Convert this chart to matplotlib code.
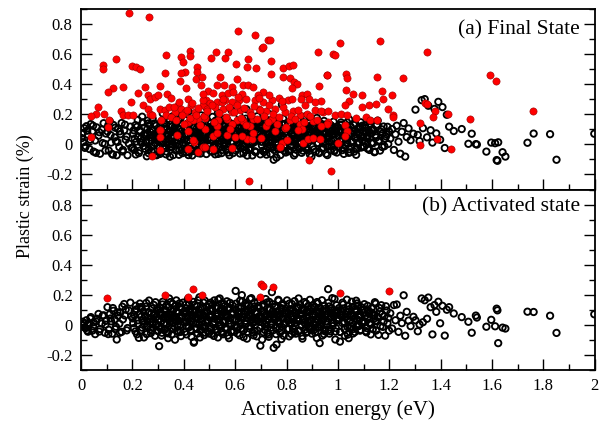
import matplotlib
matplotlib.use("Agg")
import matplotlib.pyplot as plt
from matplotlib.ticker import MultipleLocator

plt.rcParams['font.family'] = ['Liberation Serif', 'DejaVu Serif']

# activation energy (eV) of every event, shared by both panels
energy = [
    0.003, 0.008, 0.012, 0.018, 0.021, 0.027, 0.033, 0.038, 0.044, 0.049,
    0.055, 0.061, 0.068, 0.074, 0.081, 0.088, 0.093, 0.097,
    0.103, 0.108, 0.112, 0.117, 0.121, 0.126, 0.131, 0.136, 0.139, 0.144,
    0.149, 0.153, 0.158, 0.163, 0.168, 0.174, 0.181, 0.192,
    0.203, 0.207, 0.212, 0.216, 0.221, 0.225, 0.229, 0.234, 0.238, 0.243,
    0.247, 0.252, 0.256, 0.261, 0.265, 0.270, 0.274, 0.279, 0.283, 0.288,
    0.292, 0.297,
    0.301, 0.304, 0.308, 0.311, 0.315, 0.318, 0.322, 0.325, 0.329, 0.332,
    0.336, 0.339, 0.343, 0.346, 0.350, 0.353, 0.357, 0.360, 0.364, 0.367,
    0.371, 0.374, 0.378, 0.381, 0.385, 0.389, 0.393, 0.397,
    0.402, 0.405, 0.409, 0.412, 0.416, 0.419, 0.423, 0.426, 0.430, 0.433,
    0.437, 0.440, 0.444, 0.447, 0.451, 0.454, 0.458, 0.461, 0.465, 0.468,
    0.472, 0.475, 0.479, 0.482, 0.486, 0.490, 0.494, 0.498,
    0.501, 0.505, 0.508, 0.512, 0.515, 0.519, 0.522, 0.526, 0.529, 0.533,
    0.536, 0.540, 0.543, 0.547, 0.550, 0.554, 0.557, 0.561, 0.564, 0.568,
    0.571, 0.575, 0.578, 0.582, 0.585, 0.589, 0.593, 0.597,
    0.602, 0.605, 0.609, 0.612, 0.616, 0.619, 0.623, 0.626, 0.630, 0.633,
    0.637, 0.640, 0.644, 0.647, 0.651, 0.654, 0.658, 0.661, 0.665, 0.668,
    0.672, 0.675, 0.679, 0.682, 0.686, 0.690, 0.694, 0.698,
    0.701, 0.705, 0.708, 0.712, 0.715, 0.719, 0.722, 0.726, 0.729, 0.733,
    0.736, 0.740, 0.743, 0.747, 0.750, 0.754, 0.757, 0.761, 0.764, 0.768,
    0.771, 0.775, 0.778, 0.782, 0.785, 0.789, 0.793, 0.797,
    0.802, 0.806, 0.810, 0.814, 0.817, 0.821, 0.825, 0.829, 0.832, 0.836,
    0.840, 0.844, 0.847, 0.851, 0.855, 0.859, 0.862, 0.866, 0.870, 0.874,
    0.877, 0.881, 0.885, 0.889, 0.893, 0.897,
    0.902, 0.906, 0.910, 0.914, 0.918, 0.922, 0.926, 0.930, 0.934, 0.938,
    0.942, 0.946, 0.950, 0.954, 0.958, 0.962, 0.966, 0.970, 0.974, 0.978,
    0.982, 0.986, 0.990, 0.995,
    1.003, 1.008, 1.012, 1.017, 1.021, 1.026, 1.030, 1.035, 1.039, 1.044,
    1.048, 1.053, 1.057, 1.062, 1.066, 1.071, 1.075, 1.080, 1.084, 1.089,
    1.093, 1.098,
    1.103, 1.108, 1.113, 1.118, 1.123, 1.128, 1.133, 1.139, 1.144, 1.149,
    1.155, 1.161, 1.166, 1.172, 1.178, 1.184, 1.190, 1.196,
    1.204, 1.211, 1.218, 1.224, 1.229, 1.236, 1.243, 1.249, 1.256, 1.262,
    1.268, 1.275, 1.283, 1.294,
    1.302, 1.311, 1.318, 1.326, 1.331, 1.338, 1.347, 1.352, 1.361, 1.368,
    1.376, 1.383, 1.391, 1.398, 1.407, 1.416, 1.424, 1.433, 1.451, 1.482,
    1.508, 1.521, 1.537, 1.541, 1.578, 1.597, 1.612, 1.618, 1.621, 1.624,
    1.641, 1.652, 1.738, 1.762, 1.826, 1.851, 1.998,
    # second batch, inside the dense band
    0.201, 0.205, 0.209, 0.213, 0.218, 0.222, 0.227, 0.231, 0.236, 0.240,
    0.245, 0.249, 0.254, 0.258, 0.263, 0.267, 0.272, 0.276, 0.281, 0.285,
    0.290, 0.294, 0.299, 0.233, 0.259, 0.286,
    0.302, 0.306, 0.310, 0.313, 0.317, 0.320, 0.324, 0.327, 0.331, 0.334,
    0.338, 0.341, 0.345, 0.348, 0.352, 0.355, 0.359, 0.362, 0.366, 0.369,
    0.373, 0.376, 0.380, 0.383, 0.387, 0.395,
    0.403, 0.407, 0.411, 0.414, 0.418, 0.421, 0.425, 0.428, 0.432, 0.435,
    0.439, 0.442, 0.446, 0.449, 0.453, 0.456, 0.460, 0.463, 0.467, 0.470,
    0.474, 0.477, 0.481, 0.484, 0.488, 0.496,
    0.503, 0.506, 0.510, 0.513, 0.517, 0.520, 0.524, 0.527, 0.531, 0.534,
    0.538, 0.541, 0.545, 0.548, 0.552, 0.555, 0.559, 0.562, 0.566, 0.569,
    0.573, 0.576, 0.580, 0.583, 0.587, 0.595,
    0.603, 0.607, 0.611, 0.614, 0.618, 0.621, 0.625, 0.628, 0.632, 0.635,
    0.639, 0.642, 0.646, 0.649, 0.653, 0.656, 0.660, 0.663, 0.667, 0.670,
    0.674, 0.677, 0.681, 0.684, 0.688, 0.696,
    0.703, 0.706, 0.710, 0.713, 0.717, 0.720, 0.724, 0.727, 0.731, 0.734,
    0.738, 0.741, 0.745, 0.748, 0.752, 0.755, 0.759, 0.762, 0.766, 0.769,
    0.773, 0.776, 0.780, 0.783, 0.787, 0.795,
    0.803, 0.807, 0.811, 0.815, 0.819, 0.823, 0.827, 0.831, 0.834, 0.838,
    0.842, 0.846, 0.849, 0.853, 0.857, 0.861, 0.864, 0.868, 0.872, 0.876,
    0.879, 0.883, 0.887, 0.891, 0.895, 0.899,
    0.903, 0.907, 0.911, 0.915, 0.919, 0.923, 0.927, 0.931, 0.935, 0.939,
    0.943, 0.947, 0.951, 0.955, 0.959, 0.963, 0.967, 0.971, 0.975, 0.979,
    0.983, 0.987, 0.991, 0.996, 0.999, 0.929,
    1.004, 1.009, 1.013, 1.018, 1.023, 1.027, 1.032, 1.036, 1.041, 1.045,
    1.050, 1.054, 1.059, 1.063, 1.068, 1.072, 1.077, 1.081, 1.086, 1.090,
    1.095, 1.099, 1.042, 1.071,
    1.105, 1.111, 1.116, 1.121, 1.126, 1.131, 1.136, 1.142, 1.147, 1.152,
    1.158, 1.164, 1.169, 1.175, 1.181, 1.187, 1.193, 1.199,
    0.006, 0.015, 0.024, 0.036, 0.047, 0.058, 0.071, 0.084, 0.095, 0.106,
    0.115, 0.124, 0.133, 0.142, 0.151, 0.161, 0.171, 0.178, 0.186, 0.196,
    # third batch, the core of the band
    0.252, 0.258, 0.264, 0.271, 0.277, 0.284, 0.291, 0.298, 0.305, 0.311,
    0.318, 0.324, 0.331, 0.337, 0.344, 0.349,
    0.354, 0.359, 0.365, 0.371, 0.376, 0.382, 0.388, 0.393, 0.399, 0.404,
    0.410, 0.415, 0.421, 0.427, 0.432, 0.438, 0.443, 0.448,
    0.453, 0.459, 0.464, 0.470, 0.476, 0.481, 0.487, 0.492, 0.498, 0.503,
    0.509, 0.514, 0.520, 0.526, 0.531, 0.537, 0.542, 0.548,
    0.553, 0.558, 0.564, 0.570, 0.575, 0.581, 0.586, 0.592, 0.598, 0.603,
    0.609, 0.614, 0.620, 0.625, 0.631, 0.637, 0.642, 0.648,
    0.653, 0.659, 0.664, 0.670, 0.676, 0.681, 0.687, 0.692, 0.698, 0.704,
    0.709, 0.715, 0.720, 0.726, 0.731, 0.737, 0.742, 0.748,
    0.753, 0.759, 0.764, 0.770, 0.775, 0.781, 0.786, 0.792, 0.798, 0.803,
    0.809, 0.814, 0.820, 0.826, 0.831, 0.837, 0.842, 0.848,
    0.853, 0.859, 0.864, 0.870, 0.876, 0.881, 0.887, 0.892, 0.898, 0.903,
    0.909, 0.914, 0.920, 0.926, 0.931, 0.937, 0.942, 0.948,
    0.953, 0.959, 0.964, 0.970, 0.976, 0.981, 0.987, 0.992, 0.998, 1.003,
    1.009, 1.014, 1.020, 1.026, 1.031, 1.037, 1.042, 1.048,
    1.053, 1.060, 1.067, 1.074, 1.081, 1.088, 1.095, 1.102, 1.109, 1.116,
    1.123, 1.130, 1.138, 1.146,
]

# plastic strain (%) in the final state
strain_final = [
    0.042, 0.015, 0.108, -0.012, 0.121, 0.064, -0.031, 0.135, 0.087, -0.048,
    0.026, 0.113, 0.058, -0.062, 0.098, 0.141, 0.003, 0.072,
    0.086, -0.041, 0.153, 0.012, -0.064, 0.129, 0.047, 0.021, -0.072, 0.105,
    -0.018, 0.068, 0.142, -0.037, 0.094, 0.031, -0.072, 0.118,
    0.071, -0.036, 0.128, 0.019, 0.162, -0.058, 0.093, 0.041, 0.184, -0.011,
    0.112, 0.057, -0.079, 0.139, 0.026, 0.082, -0.044, 0.171, 0.063, 0.008,
    0.124, -0.067,
    0.092, 0.017, -0.063, 0.148, 0.053, 0.206, -0.024, 0.117, 0.071, -0.047,
    0.168, 0.034, 0.089, -0.081, 0.132, 0.002, 0.187, 0.059, 0.113, -0.038,
    0.077, 0.151, 0.024, -0.069, 0.098, 0.045, 0.196, 0.013,
    0.031, 0.162, -0.052, 0.104, 0.071, 0.218, -0.009, 0.143, 0.057, -0.073,
    0.122, 0.019, 0.176, 0.083, -0.036, 0.134, 0.047, 0.101, -0.061, 0.193,
    0.028, 0.156, 0.066, -0.022, 0.112, 0.241, 0.004, 0.087,
    0.116, -0.044, 0.068, 0.183, 0.025, 0.137, -0.066, 0.092, 0.043, 0.211,
    -0.017, 0.154, 0.079, -0.058, 0.126, 0.011, 0.171, 0.061, -0.031, 0.102,
    0.038, 0.147, -0.072, 0.088, 0.229, 0.017, 0.131, 0.054,
    0.074, -0.028, 0.148, 0.036, 0.197, -0.061, 0.109, 0.053, 0.162, -0.012,
    0.087, 0.024, 0.234, -0.074, 0.121, 0.042, -0.037, 0.176, 0.096, 0.008,
    0.143, 0.061, -0.051, 0.118, 0.187, 0.029, 0.074, -0.066,
    0.132, 0.053, -0.042, 0.097, 0.168, 0.012, -0.068, 0.121, 0.064, 0.201,
    -0.024, 0.143, 0.031, 0.088, -0.102, 0.176, 0.049, -0.088, 0.112, 0.006,
    0.151, 0.073, -0.031, 0.264, 0.094, 0.021, 0.137, -0.054,
    0.061, 0.143, -0.037, 0.089, 0.018, 0.171, 0.052, -0.073, 0.117, 0.034,
    0.092, -0.018, 0.068, 0.154, 0.007, -0.056, 0.128, 0.043, 0.079, 0.187,
    -0.029, 0.101, 0.026, 0.142, 0.058, -0.081,
    0.029, 0.121, 0.064, -0.048, 0.176, 0.008, 0.097, 0.042, 0.138, -0.027,
    0.083, 0.156, 0.017, -0.062, 0.112, 0.053, 0.071, 0.131, -0.013, 0.094,
    0.031, -0.046, 0.068, 0.102,
    0.087, 0.021, 0.146, -0.038, 0.062, 0.113, -0.011, 0.039, 0.094, 0.166,
    -0.052, 0.073, 0.018, 0.129, 0.047, -0.024, 0.082, 0.104, 0.011, 0.147,
    0.056, -0.017,
    0.021, 0.109, 0.058, -0.026, 0.137, 0.074, 0.012, 0.093, -0.048, 0.046,
    0.158, 0.027, 0.084, -0.017, 0.119, 0.038, 0.066, 0.003,
    0.039, 0.102, -0.037, 0.067, 0.124, 0.018, -0.062, 0.084, 0.142, -0.081,
    0.049, 0.106, 0.028, 0.071,
    0.231, 0.063, 0.022, 0.294, 0.108, 0.301, 0.047, 0.257, 0.094, 0.012,
    0.236, 0.073, 0.283, 0.031, 0.248, -0.024, 0.197, 0.118, 0.089, 0.102,
    0.004, 0.071, 0.002, -0.001, -0.048, 0.012, 0.008, -0.104, -0.109, 0.014,
    -0.052, -0.081, 0.011, 0.072, 0.068, -0.102, 0.071,
    # second batch
    -0.021, 0.094, 0.038, -0.067, 0.117, 0.051, -0.043, 0.084, 0.011, 0.147,
    0.066, -0.029, 0.023, 0.102, -0.058, 0.129, 0.061, -0.013, 0.092, 0.139,
    0.037, -0.072, 0.081, 0.016, 0.158, -0.046,
    0.048, -0.052, 0.121, 0.006, 0.073, -0.029, 0.142, 0.027, -0.066, 0.098,
    0.011, 0.061, 0.158, -0.017, 0.044, 0.119, -0.071, 0.083, 0.022, 0.137,
    -0.041, 0.067, 0.104, 0.001, 0.172, -0.058,
    0.109, -0.032, 0.058, 0.137, -0.071, 0.089, 0.013, 0.161, 0.038, -0.044,
    0.077, 0.118, -0.013, 0.052, 0.146, -0.058, 0.091, 0.023, 0.129, -0.027,
    0.067, 0.006, 0.183, 0.042, -0.064, 0.148,
    0.027, 0.141, -0.049, 0.064, 0.103, -0.021, 0.158, 0.036, 0.087, -0.063,
    0.119, 0.009, 0.071, -0.038, 0.136, 0.052, -0.007, 0.097, 0.174, 0.021,
    -0.054, 0.112, 0.046, 0.139, -0.026, 0.083,
    -0.041, 0.089, 0.013, 0.127, 0.064, -0.018, 0.152, 0.031, -0.059, 0.106,
    0.047, 0.171, 0.018, 0.083, -0.031, 0.138, 0.004, 0.061, -0.073, 0.114,
    0.027, -0.046, 0.093, 0.152, 0.038, 0.109,
    0.017, 0.108, 0.072, -0.051, 0.139, 0.043, 0.088, -0.016, 0.157, 0.028,
    -0.063, 0.096, 0.061, 0.124, -0.037, 0.079, 0.009, 0.146, -0.026, 0.052,
    0.113, -0.071, 0.084, 0.036, 0.171, -0.009,
    0.102, -0.046, 0.048, 0.129, -0.012, 0.076, 0.163, 0.021, -0.061, 0.108,
    0.041, 0.132, -0.028, 0.087, 0.013, 0.118, -0.042, 0.164, 0.057, -0.019,
    0.093, 0.032, 0.148, -0.067, 0.074, 0.122,
    0.054, -0.033, 0.117, 0.074, 0.009, 0.146, -0.058, 0.061, 0.103, 0.027,
    -0.021, 0.088, 0.132, 0.043, -0.071, 0.097, 0.018, -0.039, 0.124, 0.066,
    0.151, 0.002, 0.083, -0.054, 0.118, 0.037,
    -0.018, 0.082, 0.131, 0.037, -0.063, 0.104, 0.012, 0.146, 0.058, -0.032,
    0.117, 0.023, 0.091, -0.048, 0.139, 0.066, 0.004, 0.112, 0.079, -0.021,
    0.124, 0.047, 0.098, -0.069,
    0.128, 0.043, -0.029, 0.086, 0.154, 0.007, 0.098, -0.052, 0.061, 0.132,
    0.019, -0.041, 0.101, 0.074, -0.012, 0.053, 0.117, 0.086,
    0.073, -0.023, 0.091, 0.031, 0.124, -0.056, 0.081, 0.009, -0.041, 0.128,
    0.062, -0.068, 0.111, 0.016, 0.087, -0.047, 0.131, 0.052, 0.006, -0.023,
    # third batch
    0.013, 0.072, -0.031, 0.047, 0.094, -0.008, 0.061, 0.026, -0.047, 0.083,
    0.019, 0.104, -0.022, 0.056, 0.003, 0.088,
    -0.016, 0.052, 0.097, 0.008, 0.071, -0.039, 0.038, 0.089, -0.004, 0.062,
    0.114, 0.024, -0.051, 0.079, 0.041, -0.023, 0.058, 0.101,
    0.032, -0.041, 0.076, 0.109, 0.014, 0.058, -0.027, 0.093, 0.041, -0.009,
    0.067, 0.121, -0.044, 0.029, 0.084, -0.017, 0.052, 0.098,
    0.083, 0.011, 0.127, -0.034, 0.046, 0.097, 0.021, -0.058, 0.068, 0.036,
    0.112, -0.011, 0.079, 0.048, 0.006, 0.093, -0.039, 0.057,
    0.061, -0.024, 0.038, 0.107, 0.016, -0.049, 0.083, 0.029, 0.121, -0.007,
    0.056, 0.096, -0.033, 0.072, 0.014, 0.048, 0.109, -0.018,
    0.091, 0.036, -0.027, 0.064, 0.118, 0.008, 0.049, -0.043, 0.086, 0.023,
    0.137, -0.011, 0.068, 0.097, 0.031, -0.034, 0.076, 0.012,
    -0.026, 0.063, 0.102, 0.017, 0.049, -0.038, 0.081, 0.124, 0.028, -0.014,
    0.071, 0.046, 0.096, -0.052, 0.037, 0.113, 0.006, 0.064,
    0.078, -0.017, 0.043, 0.109, 0.021, 0.067, -0.039, 0.091, 0.004, 0.056,
    0.128, 0.032, -0.024, 0.084, 0.047, 0.011, -0.056, 0.072,
    0.016, 0.089, 0.042, -0.031, 0.068, 0.113, 0.024, -0.014, 0.077, 0.051,
    -0.037, 0.096, 0.009, 0.061,
]

# plastic strain (%) in the activated state
strain_act = [
    0.000, -0.004, 0.012, -0.021, 0.031, -0.045, 0.006, 0.052, -0.038, 0.018,
    -0.061, 0.041, 0.073, -0.027, 0.009, 0.064, -0.052, 0.027,
    0.118, -0.032, 0.071, 0.024, -0.058, 0.094, 0.036, -0.012, -0.097, 0.061,
    0.008, 0.083, -0.046, 0.037, 0.139, 0.102, -0.021, 0.148,
    0.012, 0.067, -0.043, 0.104, 0.031, -0.086, 0.142, 0.055, -0.018, 0.089,
    0.006, 0.121, -0.061, 0.043, 0.162, -0.029, 0.077, 0.018, 0.133, -0.072,
    0.052, 0.097,
    0.034, -0.141, 0.112, 0.071, -0.052, 0.154, 0.008, 0.093, -0.027, 0.128,
    0.046, -0.088, 0.176, 0.019, 0.067, -0.064, 0.141, 0.102, -0.011, 0.052,
    0.163, -0.039, 0.084, 0.027, 0.119, -0.074, 0.061, 0.148,
    0.087, -0.046, 0.136, 0.021, 0.172, -0.018, 0.064, 0.109, -0.079, 0.041,
    0.153, -0.111, 0.096, 0.009, 0.127, -0.057, 0.074, 0.184, 0.036, -0.031,
    0.118, 0.052, -0.068, 0.161, 0.014, 0.091, -0.042, 0.137,
    0.052, 0.148, -0.061, 0.097, 0.013, 0.163, -0.034, 0.071, 0.121, -0.083,
    0.039, 0.176, 0.004, 0.108, -0.052, 0.084, 0.139, -0.019, 0.061, 0.157,
    -0.071, 0.029, 0.114, 0.046, -0.043, 0.131, 0.078, -0.006,
    0.226, 0.034, -0.057, 0.117, 0.076, 0.161, -0.024, 0.198, 0.051, -0.081,
    0.093, 0.142, 0.011, -0.046, 0.128, 0.067, 0.172, -0.013, 0.038, 0.104,
    -0.069, 0.149, 0.021, 0.083, -0.037, 0.126, 0.059, -0.138,
    0.041, -0.097, 0.136, 0.073, -0.033, 0.172, 0.018, 0.108, -0.064, 0.153,
    0.057, -0.018, 0.218, 0.091, -0.152, 0.031, 0.124, -0.131, 0.066, 0.167,
    0.007, -0.049, 0.112, 0.046, 0.141, -0.072, 0.083, 0.019,
    0.163, 0.028, -0.076, 0.104, 0.057, 0.139, -0.023, 0.082, 0.011, -0.058,
    0.121, 0.046, 0.176, -0.037, 0.069, 0.098, -0.091, 0.034, 0.152, 0.004,
    0.087, -0.046, 0.127, 0.061, -0.012, 0.109,
    0.072, -0.034, 0.118, 0.019, -0.087, 0.143, 0.051, 0.091, -0.013, 0.164,
    0.036, -0.061, 0.106, 0.071, 0.002, 0.238, 0.123, -0.042, 0.057, 0.178,
    0.014, 0.086, -0.097, 0.131,
    0.046, -0.111, 0.092, 0.013, 0.137, -0.028, 0.071, 0.168, -0.064, 0.104,
    0.032, -0.012, 0.119, 0.058, -0.047, 0.087, 0.143, 0.006, 0.064, -0.033,
    0.098, 0.027,
    0.138, 0.062, -0.021, 0.097, 0.014, -0.063, 0.081, 0.039, 0.151, -0.037,
    0.052, 0.113, -0.008, 0.071, 0.021, -0.071, 0.096, 0.046,
    0.078, -0.024, 0.132, 0.031, 0.136, -0.046, 0.061, 0.012, 0.197, -0.072,
    0.087, 0.029, -0.008, 0.054,
    0.031, -0.042, 0.003, 0.176, 0.018, 0.164, 0.041, 0.182, 0.118, -0.063,
    0.132, 0.087, 0.154, 0.011, 0.127, -0.071, 0.101, 0.118, 0.076, 0.052,
    0.021, -0.052, 0.062, 0.049, -0.012, 0.034, -0.009, 0.108, 0.097, -0.121,
    -0.018, -0.024, 0.088, 0.086, 0.061, -0.053, 0.071,
    # second batch
    0.043, -0.021, 0.094, 0.127, -0.062, 0.008, 0.071, -0.037, 0.112, 0.029,
    -0.083, 0.061, 0.146, -0.008, 0.086, 0.037, -0.054, 0.109, -0.019, 0.068,
    0.151, 0.003, -0.041, 0.119, 0.022, 0.079,
    -0.012, 0.083, 0.024, -0.071, 0.136, 0.047, -0.034, 0.101, 0.067, 0.004,
    -0.056, 0.118, 0.038, 0.152, -0.022, 0.089, 0.013, 0.061, -0.098, 0.129,
    0.027, 0.078, -0.049, 0.143, 0.003, 0.057,
    0.018, 0.112, -0.063, 0.057, -0.009, 0.143, 0.084, -0.041, 0.026, 0.097,
    -0.118, 0.133, 0.049, -0.026, 0.071, 0.164, 0.002, -0.083, 0.106, 0.043,
    -0.014, 0.148, 0.079, -0.052, 0.122, 0.031,
    0.098, -0.024, 0.067, 0.134, -0.073, 0.021, 0.112, 0.057, -0.047, 0.168,
    0.033, -0.009, 0.091, 0.143, -0.062, 0.016, 0.124, 0.071, -0.031, 0.052,
    0.101, -0.088, 0.147, 0.008, 0.082, -0.041,
    0.141, -0.016, 0.087, 0.028, -0.069, 0.113, 0.052, 0.157, -0.038, 0.074,
    0.006, 0.132, -0.091, 0.046, 0.097, -0.024, 0.064, 0.178, 0.013, -0.052,
    0.121, 0.037, 0.089, -0.076, 0.152, 0.024,
    0.092, 0.017, -0.048, 0.127, 0.063, -0.011, 0.149, 0.034, -0.079, 0.103,
    0.071, 0.003, 0.138, -0.036, 0.056, 0.118, -0.061, 0.089, 0.027, 0.161,
    -0.021, 0.074, -0.094, 0.131, 0.041, 0.097,
    -0.028, 0.081, 0.142, 0.012, -0.061, 0.094, 0.037, 0.158, -0.009, 0.066,
    0.113, -0.043, 0.027, 0.134, 0.072, -0.074, 0.101, 0.018, -0.031, 0.143,
    0.054, 0.089, -0.021, 0.167, 0.036, -0.058,
    0.131, 0.006, -0.051, 0.087, 0.152, 0.029, -0.018, 0.112, 0.064, -0.071,
    0.041, 0.128, -0.032, 0.093, 0.021, 0.147, -0.058, 0.076, 0.112, -0.008,
    0.059, 0.173, -0.044, 0.028, 0.097, -0.121,
    0.112, -0.046, 0.063, 0.148, 0.021, -0.072, 0.087, 0.036, 0.127, -0.019,
    0.071, 0.154, -0.057, 0.043, 0.106, -0.009, 0.128, 0.052, -0.038, 0.119,
    0.014, 0.081, -0.088, 0.161,
    0.017, -0.049, 0.127, 0.074, 0.006, 0.112, -0.028, 0.063, 0.141, 0.024,
    -0.066, 0.089, 0.131, -0.013, 0.057, 0.124, 0.012, -0.038,
    0.021, -0.018, -0.036, 0.043, -0.009, 0.024, -0.044, 0.061, 0.002, -0.061,
    0.043, 0.112, -0.028, 0.084, -0.052, 0.121, 0.063, -0.036, 0.096, 0.058,
    # third batch
    0.056, -0.013, 0.082, 0.021, -0.038, 0.064, 0.007, 0.098, 0.038, -0.027,
    0.071, 0.012, 0.091, -0.044, 0.049, 0.026,
    0.068, -0.029, 0.034, 0.089, 0.004, 0.052, -0.046, 0.107, 0.019, 0.076,
    -0.008, 0.043, 0.094, -0.033, 0.061, 0.014, 0.082, -0.019,
    0.047, 0.101, -0.036, 0.023, 0.068, -0.012, 0.087, 0.031, -0.057, 0.059,
    0.109, 0.003, 0.042, -0.028, 0.077, 0.018, 0.096, -0.043,
    0.026, 0.083, -0.021, 0.061, 0.112, 0.009, -0.048, 0.072, 0.036, 0.098,
    -0.014, 0.054, 0.006, 0.118, -0.037, 0.069, 0.027, 0.088,
    -0.009, 0.054, 0.097, 0.016, -0.042, 0.078, 0.031, 0.113, -0.021, 0.049,
    0.087, 0.002, 0.066, -0.053, 0.039, 0.104, 0.011, 0.071,
    0.047, -0.018, 0.089, 0.024, 0.063, -0.039, 0.108, 0.012, 0.074, 0.041,
    -0.026, 0.096, 0.009, 0.058, -0.047, 0.082, 0.033, 0.117,
    0.068, -0.006, 0.043, 0.101, -0.052, 0.027, 0.084, 0.013, -0.029, 0.063,
    0.121, 0.036, -0.016, 0.079, 0.004, 0.052, 0.093, -0.041,
    0.024, 0.076, -0.033, 0.048, 0.097, 0.008, 0.061, -0.021, 0.083, 0.035,
    -0.047, 0.067, 0.109, 0.016, 0.052, -0.014, 0.089, 0.031,
    0.058, -0.027, 0.093, 0.036, -0.008, 0.071, 0.019, 0.104, -0.041, 0.047,
    0.082, 0.002, 0.064, 0.027,
]

# highlighted events, final state
red_final_e = [
    0.186, 0.263, 0.135, 0.087, 0.087, 0.198, 0.215, 0.228, 0.125, 0.105,
    0.163, 0.331, 0.328, 0.250, 0.222, 0.307, 0.336, 0.388, 0.398, 0.406,
    0.388, 0.424, 0.424, 0.450, 0.452, 0.448, 0.468, 0.385, 0.410, 0.066,
    0.060, 0.040, 0.090, 0.038, 0.108, 0.105, 0.157, 0.163, 0.183, 0.202,
    0.196, 0.241, 0.261, 0.267, 0.276, 0.261, 0.267, 0.287, 0.300, 0.306,
    0.326, 0.341, 0.332, 0.313, 0.306, 0.364, 0.377, 0.390, 0.403, 0.416,
    0.429, 0.442, 0.455, 0.475, 0.488, 0.416, 0.436, 0.440, 0.306, 0.276,
    0.455, 0.474, 0.416, 0.306, 0.306,
    0.612, 0.677, 0.729, 0.735, 0.703, 0.709, 0.525, 0.505, 0.560, 0.571,
    0.603, 0.651, 0.647, 0.680, 0.739, 0.739, 0.785, 0.808, 0.824, 0.785,
    0.813, 0.829, 0.839, 0.820, 0.921, 0.958, 0.926, 0.541, 0.606, 0.470,
    0.531, 0.556, 0.586, 0.632, 0.651, 0.671, 0.495, 0.515, 0.547, 0.573,
    0.593, 0.625, 0.709, 0.687, 0.770, 0.807, 0.859, 0.881, 0.887, 0.856,
    0.476, 0.502, 0.528, 0.560, 0.586, 0.616, 0.642, 0.677, 0.709, 0.742,
    0.489, 0.521, 0.554, 0.586, 0.619, 0.658, 0.694, 0.722, 0.755, 0.794,
    0.826, 0.852, 0.878, 0.911, 0.943, 0.482, 0.534, 0.567, 0.606, 0.632,
    0.671, 0.742, 0.813, 0.852, 0.904, 0.962, 0.482, 0.528, 0.658, 0.722,
    0.794, 0.859, 0.515, 0.567, 0.599, 0.645, 0.664, 0.781, 0.865, 0.885,
    0.904, 0.930, 0.482, 0.515, 0.586, 0.774, 0.654, 0.888,
    1.010, 1.163, 0.979, 0.988, 1.345, 0.958, 1.030, 1.036, 1.153, 1.252,
    1.031, 1.060, 1.092, 1.170, 1.209, 1.044, 1.027, 0.936, 1.092, 1.122,
    1.150, 1.176, 1.196, 1.338, 1.348, 0.936, 0.962, 0.988, 1.014, 1.034,
    1.070, 1.109, 1.125, 1.153, 1.213, 1.213, 1.377, 1.370, 1.427, 1.319,
    0.956, 1.027, 1.034, 1.027, 1.001, 1.319, 1.387, 1.440, 0.975, 1.594,
    1.615, 1.760, 1.514,
    0.352, 0.362, 0.371, 0.383, 0.394, 0.401, 0.412, 0.423, 0.433, 0.446,
    0.457, 0.463, 0.478, 0.491, 0.508, 0.517, 0.538, 0.549, 0.563, 0.577,
    0.589, 0.597, 0.609, 0.622, 0.636, 0.644, 0.662, 0.673, 0.686, 0.698,
    0.712, 0.726, 0.733, 0.748, 0.761, 0.772, 0.788, 0.799, 0.817, 0.834,
    0.846, 0.869, 0.893, 0.917, 0.934, 0.372, 0.418, 0.437, 0.529, 0.581,
    0.627, 0.668, 0.701, 0.757, 0.803, 0.843, 0.352, 0.476, 0.553, 0.612,
    0.694, 0.731, 0.781, 0.822, 0.871, 0.912,
]
red_final_s = [
    0.871, 0.849, 0.571, 0.531, 0.500, 0.520, 0.516, 0.500, 0.375, 0.349,
    0.382, 0.593, 0.475, 0.382, 0.342, 0.385, 0.333, 0.582, 0.545, 0.478,
    0.475, 0.622, 0.587, 0.515, 0.482, 0.438, 0.398, 0.420, 0.375, 0.249,
    0.205, 0.190, 0.205, 0.049, 0.160, 0.115, 0.220, 0.193, 0.198, 0.193,
    0.282, 0.260, 0.238, 0.205, 0.193, 0.327, 0.304, 0.316, 0.327, 0.238,
    0.227, 0.249, 0.193, 0.160, 0.093, 0.216, 0.260, 0.238, 0.216, 0.304,
    0.260, 0.216, 0.171, 0.260, 0.293, 0.149, 0.160, 0.016, -0.040, -0.078,
    -0.051, -0.018, -0.029, 0.093, 0.049,
    0.756, 0.727, 0.693, 0.693, 0.642, 0.649, 0.611, 0.575, 0.575, 0.615,
    0.535, 0.571, 0.516, 0.509, 0.555, 0.471, 0.509, 0.518, 0.527, 0.449,
    0.442, 0.416, 0.402, 0.375, 0.615, 0.460, 0.389, 0.449, 0.433, 0.449,
    0.393, 0.393, 0.382, 0.398, 0.393, 0.382, 0.353, 0.344, 0.331, 0.344,
    0.349, 0.338, 0.349, 0.327, 0.309, 0.298, 0.331, 0.338, 0.300, 0.304,
    0.293, 0.278, 0.282, 0.293, 0.282, 0.293, 0.304, 0.298, 0.282, 0.293,
    0.238, 0.249, 0.233, 0.216, 0.227, 0.216, 0.233, 0.220, 0.238, 0.216,
    0.220, 0.198, 0.204, 0.227, 0.216, 0.176, 0.160, 0.167, 0.160, 0.153,
    0.171, 0.171, 0.160, 0.138, 0.153, 0.149, 0.100, 0.122, 0.122, 0.122,
    0.109, 0.104, 0.056, 0.060, 0.049, 0.033, 0.038, 0.011, 0.011, 0.038,
    0.042, 0.038, -0.018, -0.029, -0.024, -0.018, -0.240, -0.107,
    0.671, 0.687, 0.604, 0.593, 0.611, 0.460, 0.465, 0.442, 0.449, 0.442,
    0.360, 0.338, 0.331, 0.353, 0.331, 0.287, 0.264, 0.287, 0.249, 0.264,
    0.271, 0.300, 0.233, 0.278, 0.271, 0.220, 0.220, 0.198, 0.204, 0.193,
    0.176, 0.182, 0.160, 0.160, 0.193, 0.182, 0.220, 0.182, 0.204, 0.144,
    0.138, 0.127, 0.087, 0.056, 0.011, -0.002, 0.038, -0.033, -0.180, 0.460,
    0.422, 0.220, 0.171,
    0.183, 0.247, 0.162, 0.281, 0.193, 0.138, 0.226, 0.178, 0.272, 0.198,
    0.243, 0.131, 0.189, 0.221, 0.262, 0.147, 0.206, 0.279, 0.184, 0.251,
    0.137, 0.218, 0.264, 0.173, 0.243, 0.128, 0.197, 0.258, 0.168, 0.226,
    0.187, 0.149, 0.263, 0.201, 0.134, 0.182, 0.247, 0.118, 0.192, 0.171,
    0.226, 0.148, 0.187, 0.164, 0.121, 0.064, 0.091, 0.031, 0.074, 0.102,
    0.058, 0.079, 0.043, 0.088, 0.026, 0.097, 0.311, 0.332, 0.303, 0.316,
    0.309, 0.327, 0.288, 0.301, 0.263, 0.279,
]

# highlighted events, activated state
red_act_e = [0.102, 0.327, 0.415, 0.437, 0.470, 0.697, 0.700, 0.709, 0.748,
             1.010, 1.198]
red_act_s = [0.178, 0.196, 0.184, 0.240, 0.196, 0.184, 0.273, 0.258, 0.251,
             0.209, 0.224]

fig, (ax1, ax2) = plt.subplots(2, 1, figsize=(6.02, 4.21), dpi=100, sharex=True)
fig.subplots_adjust(left=0.1346, right=0.988, top=0.9786, bottom=0.121, hspace=0)

ax1.scatter(energy, strain_final, s=21, facecolors='none', edgecolors='black',
            linewidths=1.35, zorder=2)
ax1.scatter(red_final_e, red_final_s, s=27, c='#ff0000', edgecolors='#990000',
            linewidths=0.4, zorder=3)
ax2.scatter(energy, strain_act, s=21, facecolors='none', edgecolors='black',
            linewidths=1.35, zorder=2)
ax2.scatter(red_act_e, red_act_s, s=27, c='#ff0000', edgecolors='#990000',
            linewidths=0.4, zorder=3)

ax1.text(0.971, 0.94, '(a) Final State', transform=ax1.transAxes,
         ha='right', va='top', fontsize=15.5)
ax2.text(0.971, 0.955, '(b) Activated state', transform=ax2.transAxes,
         ha='right', va='top', fontsize=15.5)

for ax in (ax1, ax2):
    ax.set_xlim(0, 2)
    ax.set_ylim(-0.3, 0.9)
    ax.xaxis.set_major_locator(MultipleLocator(0.2))
    ax.xaxis.set_minor_locator(MultipleLocator(0.1))
    ax.yaxis.set_major_locator(MultipleLocator(0.2))
    ax.yaxis.set_minor_locator(MultipleLocator(0.1))
    ax.tick_params(which='both', direction='in', right=True, top=False,
                   labelsize=12, width=1.0)
    ax.tick_params(which='major', length=8, pad=6)
    ax.tick_params(which='minor', length=4)
    for sp in ax.spines.values():
        sp.set_linewidth(1.3)

ax1.set_yticks([-0.2, 0, 0.2, 0.4, 0.6, 0.8])
ax2.set_yticks([-0.2, 0, 0.2, 0.4, 0.6, 0.8])
ax1.set_yticklabels(['-0.2', '0', '0.2', '0.4', '0.6', '0.8'])
ax2.set_yticklabels(['-0.2', '0', '0.2', '0.4', '0.6', '0.8'])
ax2.set_xticks([0, 0.2, 0.4, 0.6, 0.8, 1, 1.2, 1.4, 1.6, 1.8, 2])
ax2.set_xticklabels(['0', '0.2', '0.4', '0.6', '0.8', '1', '1.2', '1.4',
                     '1.6', '1.8', '2'])
ax1.tick_params(labelbottom=False)

ax2.set_xlabel('Activation energy (eV)', fontsize=15)
fig.text(0.042, 0.534, 'Plastic strain (%)', rotation=90, ha='center',
         va='center', fontsize=13)

fig.savefig('out.png', dpi=100)
